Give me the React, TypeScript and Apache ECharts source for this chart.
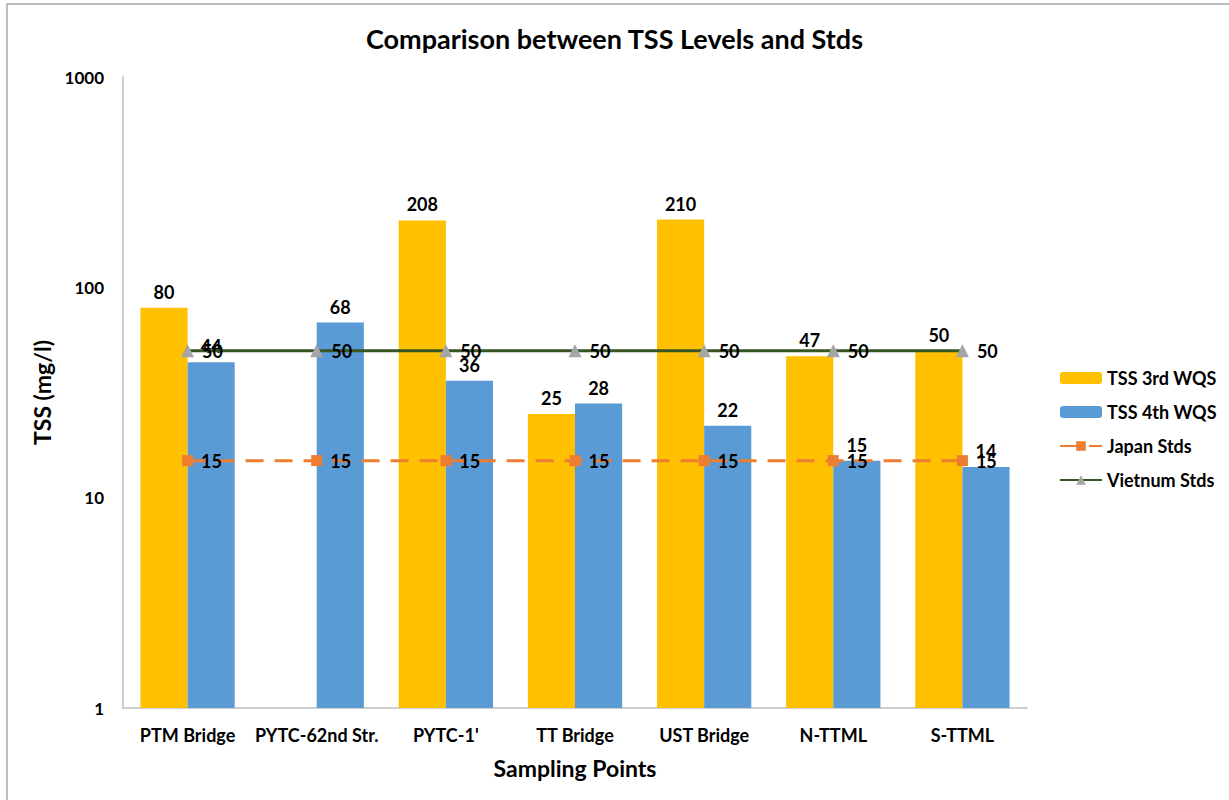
import React, { useEffect, useRef } from "react";
import * as echarts from "echarts";

const categories = ["PTM Bridge", "PYTC-62nd Str.", "PYTC-1'", "TT Bridge", "UST Bridge", "N-TTML", "S-TTML"];
const tss3rd = [80, null, 208, 25, 210, 47, 50];
const tss4th = [44, 68, 36, 28, 22, 15, 14];
const japanStds = [15, 15, 15, 15, 15, 15, 15];
const vietnamStds = [50, 50, 50, 50, 50, 50, 50];
const yTicks = [1, 10, 100, 1000];

const FONT = "Lato, 'Open Sans', sans-serif";

export default function App() {
  const ref = useRef<HTMLDivElement>(null);
  useEffect(() => {
    document.body.style.margin = "0";
    const chart = echarts.init(ref.current!, null, { renderer: "svg" });
    const labelStyle = { fontFamily: FONT, fontWeight: "bold" as const, fontSize: 18, color: "#000" };
    chart.setOption({
      animation: false,
      backgroundColor: "#fff",
      textStyle: { fontFamily: FONT },
      graphic: [
        {
          type: "rect",
          shape: { x: 7, y: 4, width: 1300, height: 900 },
          style: { fill: "none", stroke: "#A6A6A6", lineWidth: 1.5 },
          silent: true,
        },
      ],
      title: {
        text: "Comparison between TSS Levels and Stds",
        left: "center",
        top: 20,
        textStyle: { fontFamily: FONT, fontWeight: "bold", fontSize: 27, color: "#000" },
      },
      legend: {
        orient: "vertical",
        left: 1054,
        top: 364,
        itemWidth: 42,
        itemHeight: 12,
        itemGap: 16,
        textStyle: { fontFamily: FONT, fontWeight: "bold", fontSize: 18, color: "#000" },
        data: ["TSS 3rd WQS", "TSS 4th WQS", "Japan Stds", "Vietnum Stds"],
      },
      grid: { left: 123, right: 202, top: 77, bottom: 92 },
      xAxis: {
        type: "category",
        data: categories,
        name: "Sampling Points",
        nameLocation: "middle",
        nameGap: 48,
        nameTextStyle: { fontFamily: FONT, fontWeight: "bold", fontSize: 23, color: "#000" },
        axisLine: { lineStyle: { color: "#BFBFBF", width: 1.5 } },
        axisTick: { show: false },
        axisLabel: { fontFamily: FONT, fontWeight: "bold", fontSize: 18, color: "#000", margin: 18, interval: 0 },
      },
      yAxis: {
        type: "log",
        logBase: 10,
        min: yTicks[0],
        max: yTicks[yTicks.length - 1],
        name: "TSS (mg/l)",
        nameLocation: "middle",
        nameGap: 66,
        nameTextStyle: { fontFamily: FONT, fontWeight: "bold", fontSize: 23, color: "#000" },
        axisLine: { show: true, lineStyle: { color: "#BFBFBF", width: 1.5 } },
        axisTick: { show: false },
        splitLine: { show: false },
        axisLabel: {
          fontFamily: FONT,
          fontWeight: "bold",
          fontSize: 17,
          color: "#000",
          margin: 19,
          formatter: (v: number) => String(Math.round(v)),
        },
      },
      series: [
        {
          name: "TSS 3rd WQS",
          type: "bar",
          data: tss3rd,
          barGap: "0%",
          barCategoryGap: "27%",
          itemStyle: { color: "#FFC000" },
          label: { show: true, position: "top", distance: 7, ...labelStyle },
        },
        {
          name: "TSS 4th WQS",
          type: "bar",
          data: tss4th,
          itemStyle: { color: "#5B9BD5" },
          label: { show: true, position: "top", distance: 7, ...labelStyle },
        },
        {
          name: "Japan Stds",
          type: "line",
          data: japanStds,
          symbol: "rect",
          symbolSize: 11,
          lineStyle: { color: "#ED7D31", width: 3, type: [18, 11] },
          itemStyle: { color: "#ED7D31" },
          label: { show: true, position: "right", distance: 8, ...labelStyle },
          z: 5,
        },
        {
          name: "Vietnum Stds",
          type: "line",
          data: vietnamStds,
          symbol: "triangle",
          symbolSize: 13,
          lineStyle: { color: "#375623", width: 3 },
          itemStyle: { color: "#A5A5A5" },
          label: { show: true, position: "right", distance: 8, ...labelStyle },
          z: 5,
        },
      ],
    });
    return () => chart.dispose();
  }, []);
  return <div ref={ref} style={{ position: "absolute", left: 0, top: 0, width: 1229, height: 800 }} />;
}
